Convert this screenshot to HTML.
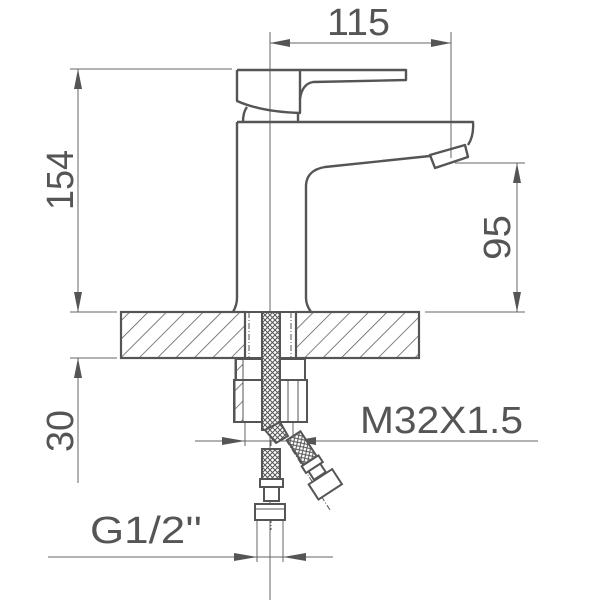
<!DOCTYPE html>
<html><head><meta charset="utf-8"><style>
html,body{margin:0;padding:0;background:#fff;}
svg{display:block;}
text{font-family:"Liberation Sans",sans-serif;fill:#555;font-size:38px;}
</style></head><body>
<svg width="600" height="600" viewBox="0 0 600 600" xmlns="http://www.w3.org/2000/svg">
<defs>
<pattern id="hat" patternUnits="userSpaceOnUse" width="13" height="13" patternTransform="rotate(45)">
<line x1="0" y1="0" x2="0" y2="13" stroke="#555" stroke-width="1.5"/>
</pattern>
<pattern id="braid" patternUnits="userSpaceOnUse" width="5" height="5">
<rect width="5" height="5" fill="#fff"/>
<path d="M0 0L5 5M5 0L0 5" stroke="#555" stroke-width="1"/>
</pattern>
</defs>
<g stroke="#666" stroke-width="1" fill="none">
<line x1="270" y1="32" x2="270" y2="600"/>
<line x1="451" y1="32" x2="451" y2="158"/>
<line x1="270" y1="43" x2="451" y2="43"/>
<line x1="70" y1="69" x2="232" y2="69"/>
<line x1="78" y1="69" x2="78" y2="312"/>
<line x1="70" y1="312" x2="117" y2="312"/>
<line x1="70" y1="358" x2="117" y2="358"/>
<line x1="78" y1="358" x2="78" y2="483"/>
<line x1="455" y1="163" x2="525" y2="163"/>
<line x1="425" y1="312" x2="525" y2="312"/>
<line x1="517" y1="163" x2="517" y2="312"/>
<line x1="195" y1="441" x2="538" y2="441"/>
<line x1="245" y1="420" x2="245" y2="446"/>
<line x1="293" y1="420" x2="293" y2="446"/>
<line x1="48" y1="557" x2="333" y2="557"/>
<line x1="257" y1="520" x2="257" y2="562"/>
<line x1="283" y1="520" x2="283" y2="562"/>
</g>
<g fill="#555">
<polygon points="270,43 290,39 290,47"/>
<polygon points="451,43 431,39 431,47"/>
<polygon points="78,69 74,89 82,89"/>
<polygon points="78,312 74,292 82,292"/>
<polygon points="78,358 74,378 82,378"/>
<polygon points="517,163 513,183 521,183"/>
<polygon points="517,312 513,292 521,292"/>
<polygon points="245,441 222,437 222,445"/>
<polygon points="293,441 316,437 316,445"/>
<polygon points="257,557 234,553 234,561"/>
<polygon points="283,557 306,553 306,561"/>
</g>
<rect x="121" y="312" width="124" height="46" fill="url(#hat)" stroke="#555" stroke-width="2.2"/>
<rect x="296" y="312" width="123" height="46" fill="url(#hat)" stroke="#555" stroke-width="2.2"/>
<line x1="245" y1="312" x2="296" y2="312" stroke="#555" stroke-width="2"/>
<line x1="245" y1="358" x2="296" y2="358" stroke="#555" stroke-width="2"/>
<g stroke="#555" stroke-width="1" stroke-dasharray="6,2,1,2" fill="none">
<line x1="249" y1="312" x2="249" y2="383"/>
<line x1="291" y1="312" x2="291" y2="383"/>
<line x1="271" y1="440" x2="271" y2="530"/>
<line x1="286" y1="440" x2="330" y2="510"/>
</g>
<g stroke="#555" stroke-width="2.4" fill="none" stroke-linejoin="round">
<path d="M237 122 L237 298 Q237 305 233 312"/>
<path d="M237 122 L473 122 Q474 136 468 145"/>
<path d="M430 156 L325 167 Q307 170 306 185 L306 298 Q306 305 311 312"/>
<polygon points="430,155 465,145 468,157 435,168"/>
<path d="M237 70 L406 70 L406 80 L313 82 Q302 84 300 99"/>
<path d="M237 70 L237 101 Q262 112 300 113 L300 70"/>
<path d="M243 122 Q243 112 247 107"/>
<line x1="298" y1="113" x2="298" y2="122"/>
</g>
<g stroke="#555" stroke-width="2" fill="none">
<rect x="236" y="359" width="69" height="21" fill="#fff"/>
<rect x="234" y="380" width="73" height="42" fill="#fff"/>
<rect x="235" y="359" width="8" height="63" fill="url(#hat)" stroke-width="1"/>
<line x1="288" y1="380" x2="288" y2="422" stroke-width="1"/>
<line x1="298" y1="380" x2="298" y2="422" stroke-width="1"/>
<rect x="262" y="312" width="18" height="118" fill="url(#braid)"/>
<polygon points="265,430 280,422 288,436 276,443" fill="url(#braid)"/>
<rect x="262" y="449" width="18" height="30" fill="url(#braid)"/>
<rect x="260" y="479" width="23" height="8" fill="#fff"/>
<rect x="264" y="487" width="15" height="14" fill="#fff"/>
<rect x="255" y="504" width="30" height="16" fill="#fff"/>
<line x1="256" y1="509" x2="284" y2="509" stroke-width="1"/>
<g transform="translate(287,440) rotate(-33)">
<rect x="0" y="0" width="16" height="30" fill="url(#braid)"/>
<rect x="-2" y="30" width="20" height="8" fill="#fff"/>
<rect x="1" y="38" width="14" height="10" fill="#fff"/>
<rect x="-6" y="49" width="28" height="18" fill="#fff"/>
</g>
</g>
<text x="327" y="35" textLength="63" lengthAdjust="spacingAndGlyphs">115</text>
<text transform="translate(73,210) rotate(-90)" textLength="60" lengthAdjust="spacingAndGlyphs">154</text>
<text transform="translate(510,260) rotate(-90)" textLength="45" lengthAdjust="spacingAndGlyphs">95</text>
<text transform="translate(73,452) rotate(-90)" textLength="42" lengthAdjust="spacingAndGlyphs">30</text>
<text x="360" y="433" textLength="163" lengthAdjust="spacingAndGlyphs">M32X1.5</text>
<text x="90" y="543" textLength="112" lengthAdjust="spacingAndGlyphs">G1/2''</text>
</svg>
</body></html>
